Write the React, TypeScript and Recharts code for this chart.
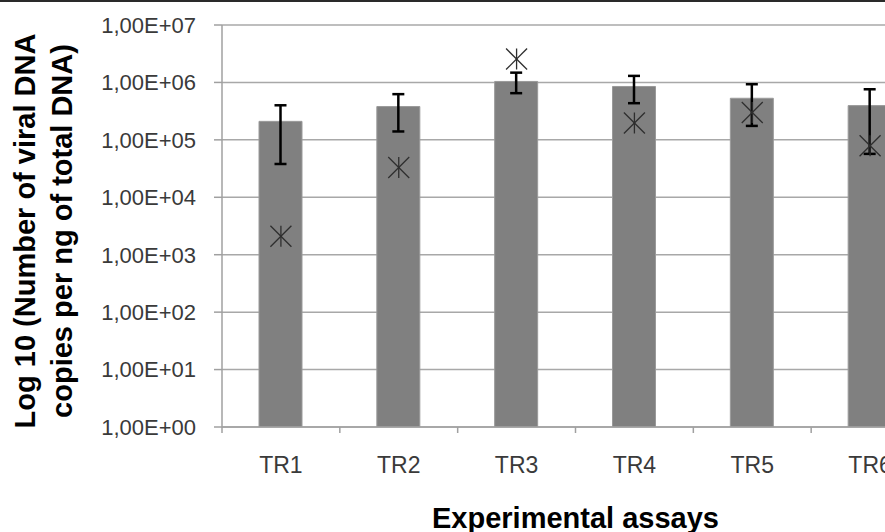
import React from "react";
import {
  ComposedChart,
  Bar,
  Scatter,
  XAxis,
  YAxis,
  CartesianGrid,
  ErrorBar,
} from "recharts";

const categories = ["TR1", "TR2", "TR3", "TR4", "TR5", "TR6"];
const barValues = [2.1e5, 3.8e5, 1.04e6, 8.5e5, 5.3e5, 3.95e5];
const errorLow = [3.8e4, 1.4e5, 6.5e5, 4.35e5, 1.75e5, 5.7e4];
const errorHigh = [4.0e5, 6.25e5, 1.48e6, 1.3e6, 9.3e5, 7.6e5];
const starValues = [2.1e3, 3.3e4, 2.55e6, 1.96e5, 3.0e5, 7.9e4];
const yTicks = [1, 10, 100, 1000, 1e4, 1e5, 1e6, 1e7];

const yTitleLines = ["Log 10 (Number of viral DNA", "copies per ng of total DNA)"];
const xTitle = "Experimental assays";

const data = categories.map((name, i) => ({
  name,
  value: barValues[i],
  err: [barValues[i] - errorLow[i], errorHigh[i] - barValues[i]],
  star: starValues[i],
}));

const FONT = "'Liberation Sans', Arial, sans-serif";
const W = 945;
const H = 532;
const MARGIN = { top: 25, right: 16, bottom: 0, left: 0 };
const X_AXIS_H = 105;
const Y_AXIS_W = 222;
const AXIS_Y = H - MARGIN.bottom - X_AXIS_H;
const PLOT_W = W - MARGIN.right - MARGIN.left - Y_AXIS_W;

const fmt = (v: number) => {
  const e = Math.round(Math.log10(v));
  return "1,00E+" + (e < 10 ? "0" + e : String(e));
};

const XTick = (props: any) => {
  const { x, payload, index } = props;
  const off =
    payload && typeof payload.offset === "number" && payload.offset > 0
      ? payload.offset
      : PLOT_W / categories.length / 2;
  return (
    <g>
      <line x1={x - off} x2={x - off} y1={AXIS_Y} y2={AXIS_Y + 6} stroke="#a0a0a0" strokeWidth={1.5} />
      {index === categories.length - 1 && (
        <line x1={x + off} x2={x + off} y1={AXIS_Y} y2={AXIS_Y + 6} stroke="#a0a0a0" strokeWidth={1.5} />
      )}
      <text
        x={x}
        y={AXIS_Y + 38}
        textAnchor="middle"
        dominantBaseline="central"
        fontSize={23}
        fontFamily={FONT}
        fill="#3a3a3a"
      >
        {payload.value}
      </text>
    </g>
  );
};

const Star = (props: any) => {
  const { cx, cy } = props;
  if (cx == null || cy == null) return null;
  const hw = 10.5;
  const hh = 10.5;
  return (
    <g stroke="#2e2e2e" strokeWidth={1.3} fill="none">
      <line x1={cx - hw} y1={cy - hh} x2={cx + hw} y2={cy + hh} />
      <line x1={cx - hw} y1={cy + hh} x2={cx + hw} y2={cy - hh} />
      <line x1={cx} y1={cy - hh} x2={cx} y2={cy + hh} />
    </g>
  );
};

const Y_TITLE_X = [35, 72];
const Y_TITLE_CY = 231;

const YTitle = () => (
  <g>
    {yTitleLines.map((line, i) => (
      <text
        key={i}
        x={Y_TITLE_X[i]}
        y={Y_TITLE_CY}
        transform={`rotate(-90, ${Y_TITLE_X[i]}, ${Y_TITLE_CY})`}
        textAnchor="middle"
        fontSize={29}
        fontWeight="bold"
        fontFamily={FONT}
        fill="#000"
      >
        {line}
      </text>
    ))}
  </g>
);

export default function App() {
  return (
    <div
      style={{
        position: "absolute",
        left: 0,
        top: 0,
        width: 885,
        height: 532,
        overflow: "hidden",
        background: "#fff",
      }}
    >
      <div
        style={{
          position: "absolute",
          left: 0,
          top: 0,
          width: 885,
          height: 0,
          borderTop: "2px solid #2a2a2a",
          zIndex: 2,
        }}
      />
      <ComposedChart width={W} height={H} data={data} margin={MARGIN} barCategoryGap={0}>
        <CartesianGrid vertical={false} stroke="#a8a8a8" strokeWidth={1.5} />
        <XAxis
          dataKey="name"
          height={X_AXIS_H}
          tickLine={false}
          axisLine={{ stroke: "#a0a0a0", strokeWidth: 1.5 }}
          tick={<XTick />}
          interval={0}
          label={{
            value: xTitle,
            position: "insideBottom",
            offset: 4,
            style: { fontSize: 29, fontWeight: "bold", fill: "#000", fontFamily: FONT },
          }}
        />
        <YAxis
          scale="log"
          domain={[1, 1e7]}
          ticks={yTicks}
          allowDataOverflow
          width={Y_AXIS_W}
          tickFormatter={fmt}
          tickSize={8}
          tickMargin={18}
          axisLine={{ stroke: "#a0a0a0", strokeWidth: 1.5 }}
          tickLine={{ stroke: "#a0a0a0", strokeWidth: 1.5 }}
          tick={{ fontSize: 22, fill: "#3a3a3a", fontFamily: FONT }}
          label={{ content: () => <YTitle /> }}
        />
        <Bar dataKey="value" fill="#808080" stroke="#9a9a9a" strokeWidth={1} barSize={43} isAnimationActive={false}>
          <ErrorBar dataKey="err" width={6} strokeWidth={2.5} stroke="#000" direction="y" />
        </Bar>
        <Scatter dataKey="star" shape={<Star />} isAnimationActive={false} />
      </ComposedChart>
    </div>
  );
}
